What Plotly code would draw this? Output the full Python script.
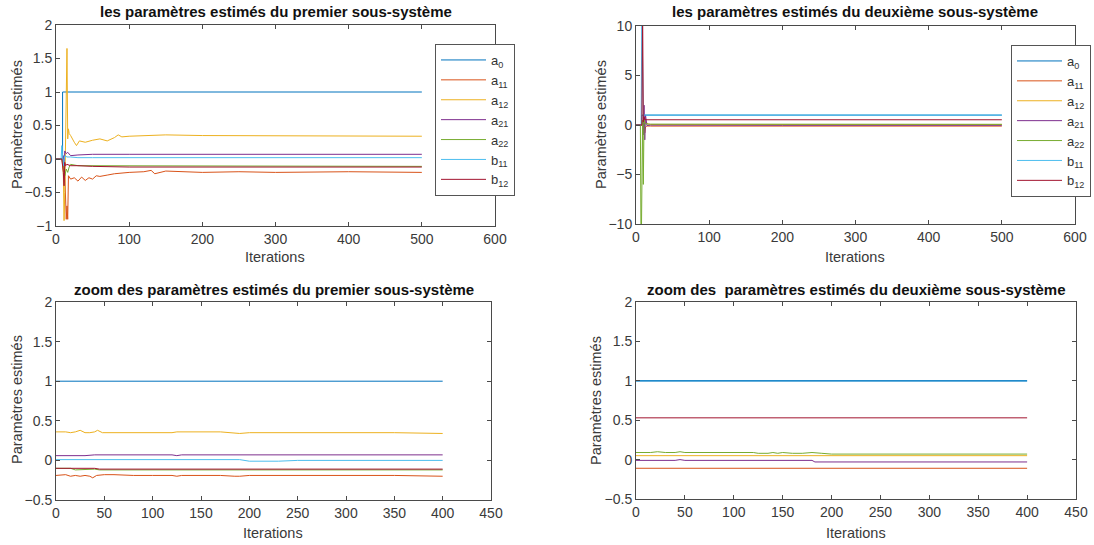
import plotly.graph_objects as go

# ---------------- data ----------------
names = ["a<sub>0</sub>", "a<sub>11</sub>", "a<sub>12</sub>", "a<sub>21</sub>",
         "a<sub>22</sub>", "b<sub>11</sub>", "b<sub>12</sub>"]
colors = ["#0072BD", "#D95319", "#EDB120", "#7E2F8E", "#77AC30", "#4DBEEE", "#A2142F"]

# Sub-system 1, full run (0..500)
s1_a0_x = [0, 9, 9, 500]
s1_a0_y = [0, 0, 1, 1]
s1_a11_x = [0, 8, 10, 11, 12, 13, 14, 15, 16, 17, 20, 25, 30, 35, 40, 45, 50, 55, 60, 70, 80,
            100, 120, 130, 135, 150, 200, 250, 300, 400, 500]
s1_a11_y = [0, 0, -0.1, -0.35, -0.2, -0.6, -0.9, -0.7, -0.9, -0.25, -0.3, -0.28, -0.33, -0.27,
            -0.32, -0.28, -0.3, -0.25, -0.26, -0.24, -0.22, -0.2, -0.19, -0.17, -0.22, -0.18,
            -0.2, -0.19, -0.2, -0.19, -0.2]
s1_a12_x = [0, 8, 10, 11, 12, 13, 14, 15, 16, 17, 18, 20, 25, 28, 32, 40, 50, 60, 70, 80, 85, 90,
            100, 150, 200, 300, 400, 500]
s1_a12_y = [0, 0, -0.2, -0.92, -0.5, 0.2, 1.2, 1.65, 0.3, 0.45, 0.38, 0.35, 0.25, 0.2, 0.27,
            0.25, 0.28, 0.3, 0.27, 0.32, 0.36, 0.33, 0.34, 0.36, 0.35, 0.35, 0.35, 0.34]
s1_a21_x = [0, 8, 10, 11, 12, 14, 16, 20, 30, 50, 100, 150, 200, 300, 500]
s1_a21_y = [0, 0, 0.05, -0.1, 0.12, 0.08, 0.1, 0.05, 0.06, 0.07, 0.07, 0.07, 0.07, 0.07, 0.07]
s1_a22_x = [0, 8, 10, 12, 14, 16, 18, 20, 30, 50, 100, 200, 500]
s1_a22_y = [0, 0, -0.05, -0.25, -0.15, -0.2, -0.12, -0.08, -0.1, -0.1, -0.11, -0.11, -0.11]
s1_b11_x = [0, 7, 8, 9, 10, 12, 15, 20, 30, 50, 100, 200, 300, 500]
s1_b11_y = [0, 0, 0.2, 0.05, -0.1, 0.05, 0.03, 0.03, 0.02, 0.02, 0.02, 0.02, 0.02, 0.02]
s1_b12_x = [0, 8, 10, 11, 12, 13, 15, 18, 20, 30, 50, 100, 200, 300, 500]
s1_b12_y = [0, 0, -0.2, -0.4, -0.05, -0.1, -0.08, -0.09, -0.1, -0.1, -0.11, -0.12, -0.12,
            -0.12, -0.12]

# Sub-system 1, zoom (0..400)
z1_a0_x = [0, 400]
z1_a0_y = [1, 1]
z1_a11_x = [0, 10, 15, 20, 25, 30, 35, 38, 42, 50, 60, 80, 100, 120, 125, 130, 150, 170, 185,
            190, 200, 250, 300, 350, 400]
z1_a11_y = [-0.19, -0.18, -0.2, -0.19, -0.2, -0.19, -0.2, -0.22, -0.19, -0.18, -0.18, -0.19,
            -0.19, -0.19, -0.2, -0.19, -0.19, -0.19, -0.2, -0.2, -0.19, -0.19, -0.19, -0.19, -0.2]
z1_a12_x = [0, 10, 15, 20, 25, 30, 35, 40, 43, 48, 60, 100, 120, 125, 130, 150, 170, 180, 190,
            200, 250, 300, 350, 400]
z1_a12_y = [0.36, 0.36, 0.35, 0.36, 0.38, 0.35, 0.35, 0.36, 0.38, 0.35, 0.35, 0.35, 0.35, 0.36,
            0.36, 0.36, 0.36, 0.35, 0.34, 0.35, 0.35, 0.35, 0.35, 0.34]
z1_a21_x = [0, 30, 40, 120, 125, 130, 400]
z1_a21_y = [0.06, 0.06, 0.07, 0.07, 0.06, 0.07, 0.07]
z1_a22_x = [0, 15, 20, 40, 45, 400]
z1_a22_y = [-0.1, -0.1, -0.12, -0.11, -0.12, -0.12]
z1_b11_x = [0, 190, 200, 230, 250, 260, 400]
z1_b11_y = [0.01, 0.01, -0.01, -0.01, 0.0, 0.0, 0.0]
z1_b12_x = [0, 40, 45, 400]
z1_b12_y = [-0.1, -0.1, -0.11, -0.11]

# Sub-system 2, full run (0..500)
s2_a0_x = [0, 8, 8, 500]
s2_a0_y = [0, 0, 1, 1]
s2_a11_x = [0, 9, 10, 11, 12, 13, 15, 20, 500]
s2_a11_y = [0, 0, -0.5, 0.4, -0.8, -0.2, -0.1, -0.11, -0.11]
s2_a12_x = [0, 9, 10, 11, 12, 13, 14, 16, 20, 50, 500]
s2_a12_y = [0, 0, 0.3, -0.3, 0.4, 0.2, 0.3, 0.1, 0.05, 0.05, 0.05]
s2_a21_x = [0, 9, 10, 11, 12, 13, 15, 20, 200, 500]
s2_a21_y = [0, 0, -1, 2, -1.5, 1, -0.05, -0.01, -0.03, -0.03]
s2_a22_x = [0, 6, 7, 8, 9, 10, 11, 12, 14, 20, 500]
s2_a22_y = [0, 0, -14, 0, 0.5, -6, 0.5, 0.2, 0.1, 0.09, 0.07]
s2_b11_x = [0, 7, 8, 9, 10, 500]
s2_b11_y = [0, 0, 12, 1.2, 1, 1]
s2_b12_x = [0, 8, 9, 10, 11, 12, 500]
s2_b12_y = [0, 0, 12, 0.3, 0.8, 0.53, 0.53]

# Sub-system 2, zoom (0..400)
z2_a0_x = [0, 400]
z2_a0_y = [1, 1]
z2_a11_x = [0, 400]
z2_a11_y = [-0.11, -0.11]
z2_a12_x = [0, 400]
z2_a12_y = [0.05, 0.05]
z2_a21_x = [0, 40, 45, 50, 180, 183, 400]
z2_a21_y = [-0.01, -0.01, 0.0, -0.01, -0.01, -0.03, -0.03]
z2_a22_x = [0, 15, 22, 30, 40, 45, 50, 120, 125, 135, 140, 145, 150, 160, 170, 180, 190, 200, 400]
z2_a22_y = [0.09, 0.09, 0.1, 0.09, 0.09, 0.1, 0.09, 0.09, 0.08, 0.08, 0.09, 0.08, 0.09, 0.08,
            0.08, 0.09, 0.08, 0.07, 0.07]
z2_b11_x = [0, 400]
z2_b11_y = [1, 1]
z2_b12_x = [0, 400]
z2_b12_y = [0.53, 0.53]

titles = ["les paramètres estimés du premier sous-système",
          "les paramètres estimés du deuxième sous-système",
          "zoom des paramètres estimés du premier sous-système",
          "zoom des \u00a0paramètres estimés du deuxième sous-système"]
xlabel = "Iterations"
ylabel = "Paramètres estimés"

# ---------------- figure ----------------
W, H = 1094, 545
FONT = "Liberation Sans, Arial, Helvetica, sans-serif"
fig = go.Figure()

panels = [
    ("x", "y", [(s1_a0_x, s1_a0_y), (s1_a11_x, s1_a11_y), (s1_a12_x, s1_a12_y), (s1_a21_x, s1_a21_y),
                (s1_a22_x, s1_a22_y), (s1_b11_x, s1_b11_y), (s1_b12_x, s1_b12_y)], "legend", list(range(7))),
    ("x2", "y2", [(s2_a0_x, s2_a0_y), (s2_a11_x, s2_a11_y), (s2_a12_x, s2_a12_y), (s2_a21_x, s2_a21_y),
                  (s2_a22_x, s2_a22_y), (s2_b11_x, s2_b11_y), (s2_b12_x, s2_b12_y)], "legend2", list(range(7))),
    ("x3", "y3", [(z1_a0_x, z1_a0_y), (z1_a11_x, z1_a11_y), (z1_a12_x, z1_a12_y), (z1_a21_x, z1_a21_y),
                  (z1_a22_x, z1_a22_y), (z1_b11_x, z1_b11_y), (z1_b12_x, z1_b12_y)], None, list(range(7))),
    ("x4", "y4", [(z2_a0_x, z2_a0_y), (z2_a11_x, z2_a11_y), (z2_a12_x, z2_a12_y), (z2_a21_x, z2_a21_y),
                  (z2_a22_x, z2_a22_y), (z2_b11_x, z2_b11_y), (z2_b12_x, z2_b12_y)], None, [5, 1, 2, 3, 4, 6, 0]),
]

for xa, ya, series, leg, order in panels:
    for i in order:
        sx, sy = series[i]
        kw = dict(x=sx, y=sy, mode="lines", name=names[i], xaxis=xa, yaxis=ya,
                  line=dict(color=colors[i], width=1.3 if i == 0 and xa == "x4" else 1),
                  hoverinfo="skip", cliponaxis=True)
        if leg:
            kw["legend"] = leg
            kw["showlegend"] = True
        else:
            kw["showlegend"] = False
        fig.add_trace(go.Scatter(**kw))

# domains in pixels
def px_x(a, b):
    return [a / W, b / W]

def px_y(top, bottom):
    return [1 - bottom / H, 1 - top / H]

axis_common = dict(showline=True, linecolor="#4a4a4a", linewidth=1, mirror="ticks",
                   ticks="inside", ticklen=4, tickcolor="#4a4a4a", showgrid=False, zeroline=False,
                   automargin=False,
                   tickfont=dict(family=FONT, size=14, color="#3a3a3a"))

legend_common = dict(xanchor="left", yanchor="top", xref="container", yref="container",
                     bordercolor="#555555", borderwidth=1, bgcolor="white",
                     font=dict(family=FONT, size=13, color="#333333"), itemwidth=45)

fig.update_layout(
    width=W, height=H, margin=dict(l=0, r=0, t=0, b=0, autoexpand=False),
    paper_bgcolor="white", plot_bgcolor="white",
    font=dict(family=FONT, color="#333333"),
    xaxis=dict(domain=px_x(56, 495), range=[0, 600], tickvals=[0, 100, 200, 300, 400, 500, 600],
               anchor="y", **axis_common),
    yaxis=dict(domain=px_y(25, 226), range=[-1, 2], tickvals=[-1, -0.5, 0, 0.5, 1, 1.5, 2],
               anchor="x", **axis_common),
    xaxis2=dict(domain=px_x(636, 1075), range=[0, 600], tickvals=[0, 100, 200, 300, 400, 500, 600],
                anchor="y2", **axis_common),
    yaxis2=dict(domain=px_y(26, 224), range=[-10, 10], tickvals=[-10, -5, 0, 5, 10],
                anchor="x2", **axis_common),
    xaxis3=dict(domain=px_x(56, 491), range=[0, 450], tickvals=list(range(0, 451, 50)),
                anchor="y3", **axis_common),
    yaxis3=dict(domain=px_y(302, 500), range=[-0.5, 2], tickvals=[-0.5, 0, 0.5, 1, 1.5, 2],
                anchor="x3", **axis_common),
    xaxis4=dict(domain=px_x(636, 1076), range=[0, 450], tickvals=list(range(0, 451, 50)),
                anchor="y4", **axis_common),
    yaxis4=dict(domain=px_y(302, 499), range=[-0.5, 2], tickvals=[-0.5, 0, 0.5, 1, 1.5, 2],
                anchor="x4", **axis_common),
    legend=dict(x=435 / W, y=1 - 44 / H, **legend_common),
    legend2=dict(x=1011 / W, y=1 - 45 / H, **legend_common),
)

def add_text(text, cx, cy, size, color, angle=0, bold=False):
    fig.add_annotation(text=("<b>" + text + "</b>") if bold else text,
                       x=cx / W, y=1 - cy / H, xref="paper", yref="paper",
                       showarrow=False, xanchor="center", yanchor="middle", textangle=angle,
                       font=dict(family=FONT, size=size, color=color))

title_pos = [((56 + 495) / 2, 11), ((636 + 1075) / 2, 11), ((56 + 491) / 2, 289), ((636 + 1076) / 2, 289)]
for t, (cx, cy) in zip(titles, title_pos):
    add_text(t, cx, cy, 15, "#111111", bold=True)

xlabel_pos = [(275, 257), (855, 257), (273, 533), (856, 533)]
for cx, cy in xlabel_pos:
    add_text(xlabel, cx, cy, 14.5, "#3a3a3a")

ylabel_pos = [(17, 125), (601, 125), (17, 400), (596, 400)]
for cx, cy in ylabel_pos:
    add_text(ylabel, cx, cy, 14.5, "#3a3a3a", angle=-90)

fig.write_html("out.html", config={"displayModeBar": False},
               post_script="document.body.style.margin='0';document.body.style.overflow='hidden';")
